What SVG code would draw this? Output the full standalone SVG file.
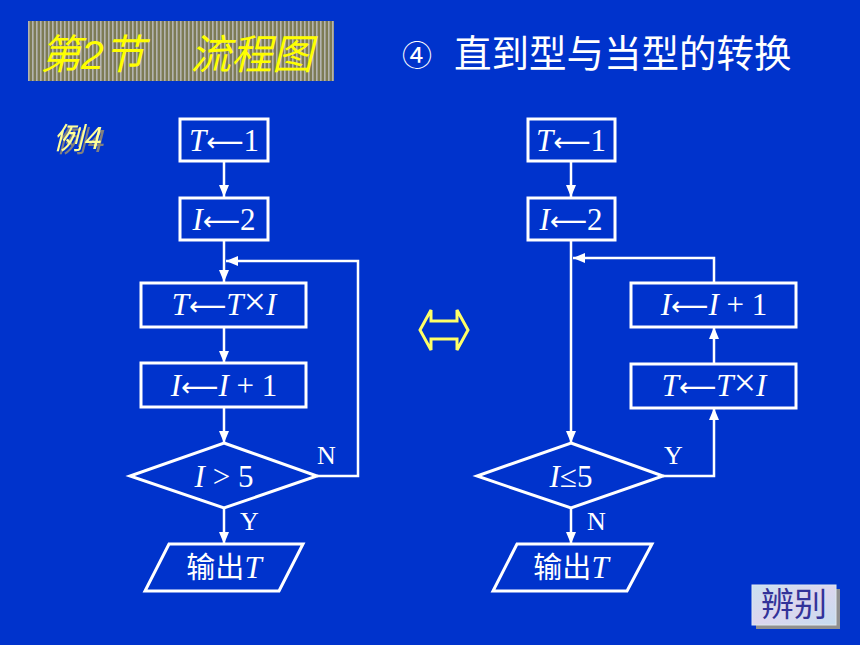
<svg xmlns="http://www.w3.org/2000/svg" width="860" height="645" viewBox="0 0 860 645">
<defs>
<pattern id="stripes" width="4" height="10" patternUnits="userSpaceOnUse">
<rect width="4" height="10" fill="#7d7b55"/>
<rect x="0" width="1.6" height="10" fill="#b4b4b0"/>
</pattern>
<linearGradient id="btn" x1="0" y1="0" x2="1" y2="1">
<stop offset="0" stop-color="#c9e0f0"/>
<stop offset="0.5" stop-color="#dcd6ee"/>
<stop offset="1" stop-color="#c5dcef"/>
</linearGradient>
<filter id="shadow" x="-10%" y="-10%" width="130%" height="130%">
<feDropShadow dx="3" dy="3" stdDeviation="0" flood-color="#808080"/>
</filter>
<marker id="ah" viewBox="0 0 12 10" refX="12" refY="5" markerWidth="12" markerHeight="10" markerUnits="userSpaceOnUse" orient="auto">
<path d="M0,0 L12,5 L0,10 Z" fill="#ffffff"/>
</marker>
</defs>
<style>
.shape{fill:none;stroke:#ffffff;stroke-width:3}
.line{fill:none;stroke:#ffffff;stroke-width:2.5}
.math{font-family:"Liberation Serif","Noto Sans CJK SC",serif;font-size:31px;fill:#ffffff;text-anchor:middle}
.it{font-style:italic}
.arr{font-family:"DejaVu Sans",sans-serif;font-size:26px}
.mul{font-size:40px}
.lbl{font-family:"Liberation Serif",serif;font-size:26px;fill:#ffffff}
.cjk{font-family:"Noto Sans CJK SC",sans-serif}
</style>
<rect width="860" height="645" fill="#0033cc"/>

<g id="banner">
<rect x="28" y="21" width="306" height="60" fill="url(#stripes)"/>
<text x="40" y="69" font-family="Liberation Sans,'Noto Sans CJK SC',sans-serif" font-size="41" font-style="italic" fill="#ffff00">第2节</text>
<text x="190" y="69" font-family="'Noto Sans CJK SC',sans-serif" font-size="41" font-style="italic" fill="#ffff00">流程图</text>
</g>
<g id="title">
<text x="402" y="66" font-family="'Noto Sans CJK SC',sans-serif" font-size="30" fill="#ffffff">④</text>
<text x="454" y="67" font-family="'Noto Sans CJK SC',sans-serif" font-size="37.5" fill="#ffffff">直到型与当型的转换</text>
</g>
<g id="example">
<text x="53" y="149" font-family="'Noto Sans CJK SC',sans-serif" font-size="30" font-style="italic" fill="#ffff99" filter="url(#shadow)">例4</text>
</g>

<g id="connectors">
<line class="line" x1="224" y1="161" x2="224" y2="197" marker-end="url(#ah)"/>
<line class="line" x1="224" y1="240" x2="224" y2="282" marker-end="url(#ah)"/>
<line class="line" x1="224" y1="327" x2="224" y2="363" marker-end="url(#ah)"/>
<line class="line" x1="224" y1="407" x2="224" y2="443" marker-end="url(#ah)"/>
<line class="line" x1="224" y1="508" x2="224" y2="544" marker-end="url(#ah)"/>
<polyline class="line" points="317,476 358,476 358,261 226,261" marker-end="url(#ah)"/>

<line class="line" x1="571" y1="161" x2="571" y2="197" marker-end="url(#ah)"/>
<line class="line" x1="571" y1="240" x2="571" y2="443" marker-end="url(#ah)"/>
<line class="line" x1="571" y1="508" x2="571" y2="544" marker-end="url(#ah)"/>
<polyline class="line" points="714,282 714,258 573,258" marker-end="url(#ah)"/>
<line class="line" x1="714" y1="364" x2="714" y2="327" marker-end="url(#ah)"/>
<polyline class="line" points="663,476 714,476 714,408" marker-end="url(#ah)"/>
</g>

<g id="L_T1"><rect class="shape" x="180" y="119" width="88" height="42"/><text class="math" x="224" y="151"><tspan class="it">T</tspan><tspan class="arr">⟵</tspan>1</text></g>
<g id="L_I2"><rect class="shape" x="180" y="198" width="88" height="42"/><text class="math" x="224" y="230"><tspan class="it">I</tspan><tspan class="arr">⟵</tspan>2</text></g>
<g id="L_TTI"><rect class="shape" x="141" y="283" width="165" height="44"/><text class="math" x="224" y="315"><tspan class="it">T</tspan><tspan class="arr">⟵</tspan><tspan class="it">T</tspan><tspan class="mul">×</tspan><tspan class="it">I</tspan></text></g>
<g id="L_II1"><rect class="shape" x="141" y="363" width="165" height="44"/><text class="math" x="224" y="396"><tspan class="it">I</tspan><tspan class="arr">⟵</tspan><tspan class="it">I</tspan> + 1</text></g>
<g id="L_dec"><polygon class="shape" points="224,443 317,476 224,508 130,476"/><text class="math" x="224" y="487"><tspan class="it">I</tspan> &gt; 5</text></g>
<g id="L_out"><polygon class="shape" points="169,544 303,544 279,591 145,591"/><text class="math" x="224" y="578"><tspan class="cjk" font-size="29">输出</tspan><tspan class="it">T</tspan></text></g>
<text class="lbl" x="317" y="464">N</text>
<text class="lbl" x="240" y="530">Y</text>

<g id="R_T1"><rect class="shape" x="528" y="119" width="87" height="42"/><text class="math" x="571" y="151"><tspan class="it">T</tspan><tspan class="arr">⟵</tspan>1</text></g>
<g id="R_I2"><rect class="shape" x="528" y="198" width="87" height="42"/><text class="math" x="571" y="230"><tspan class="it">I</tspan><tspan class="arr">⟵</tspan>2</text></g>
<g id="R_II1"><rect class="shape" x="631" y="283" width="165" height="44"/><text class="math" x="714" y="315"><tspan class="it">I</tspan><tspan class="arr">⟵</tspan><tspan class="it">I</tspan> + 1</text></g>
<g id="R_TTI"><rect class="shape" x="631" y="364" width="165" height="44"/><text class="math" x="714" y="396"><tspan class="it">T</tspan><tspan class="arr">⟵</tspan><tspan class="it">T</tspan><tspan class="mul">×</tspan><tspan class="it">I</tspan></text></g>
<g id="R_dec"><polygon class="shape" points="571,443 663,476 571,508 477,476"/><text class="math" x="571" y="487"><tspan class="it">I</tspan>≤5</text></g>
<g id="R_out"><polygon class="shape" points="517,544 652,544 627,591 493,591"/><text class="math" x="571" y="578"><tspan class="cjk" font-size="29">输出</tspan><tspan class="it">T</tspan></text></g>
<text class="lbl" x="664" y="464">Y</text>
<text class="lbl" x="587" y="530">N</text>

<g id="equiv">
<polygon points="420,330 431,310 431,321 457,321 457,310 468,330 457,350 457,339 431,339 431,350" fill="none" stroke="#ffff66" stroke-width="3" stroke-linejoin="miter"/>
</g>

<g id="button">
<rect x="756" y="589" width="84" height="40" fill="#909090"/>
<rect x="752" y="585" width="84" height="40" fill="url(#btn)" stroke="#e0e8f0" stroke-width="1"/>
<text x="794" y="616" font-family="'Noto Sans CJK SC',sans-serif" font-size="33" fill="#333399" text-anchor="middle">辨别</text>
</g>
</svg>
